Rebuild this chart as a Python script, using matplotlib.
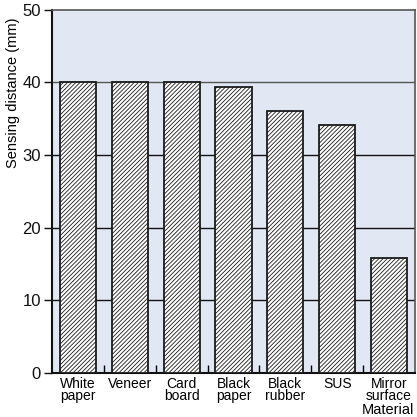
import matplotlib
matplotlib.use("Agg")
import matplotlib.pyplot as plt

# Datos
materiales = ["White\npaper", "Veneer", "Card\nboard", "Black\npaper",
              "Black\nrubber", "SUS", "Mirror\nsurface"]
distancia = [40.0, 40.0, 40.0, 39.3, 36.0, 34.1, 15.8]
ticks_y = [0, 10, 20, 30, 40, 50]

plt.rcParams["font.family"] = ["Liberation Sans", "DejaVu Sans"]
plt.rcParams["hatch.linewidth"] = 0.6

fig = plt.figure(figsize=(4.17, 4.17), dpi=100)
ax = fig.add_axes([0.125, 0.105, 0.870, 0.872])
ax.set_facecolor("#e1e8f4")

x = range(len(materiales))
ax.bar(x, distancia, width=0.7, color="white", edgecolor="#1a1a1a",
       linewidth=1.3, hatch="////////", zorder=3)

# líneas de referencia horizontales
for v in ticks_y[1:-1]:
    ax.axhline(v, color="#111111" if v < 40 else "#555555", lw=1.0, zorder=1)

ax.set_xlim(-0.5, len(materiales) - 0.5)
ax.set_ylim(0, 50)
ax.set_yticks(ticks_y)
ax.tick_params(axis="y", direction="out", length=6, width=1.0,
               labelsize=12, pad=2, colors="#111111")
ax.set_xticks(list(x))
ax.set_xticklabels(materiales, fontsize=10, linespacing=0.82)
ax.tick_params(axis="x", length=0, pad=2.5)
ax.set_xticks([i + 0.5 for i in range(len(materiales) - 1)], minor=True)
ax.tick_params(axis="x", which="minor", direction="in", length=6, width=1.0)

for s in ["left", "bottom"]:
    ax.spines[s].set_linewidth(1.5)
    ax.spines[s].set_color("#111111")
for s in ["top", "right"]:
    ax.spines[s].set_linewidth(1.2)
    ax.spines[s].set_color("#555555")

ax.set_ylabel("Sensing distance (mm)", fontsize=10.5)
ax.yaxis.set_label_coords(-0.088, 0.77)
fig.text(0.993, 0.001, "Material", ha="right", va="bottom", fontsize=10.5)

fig.savefig("out.png", dpi=100)
